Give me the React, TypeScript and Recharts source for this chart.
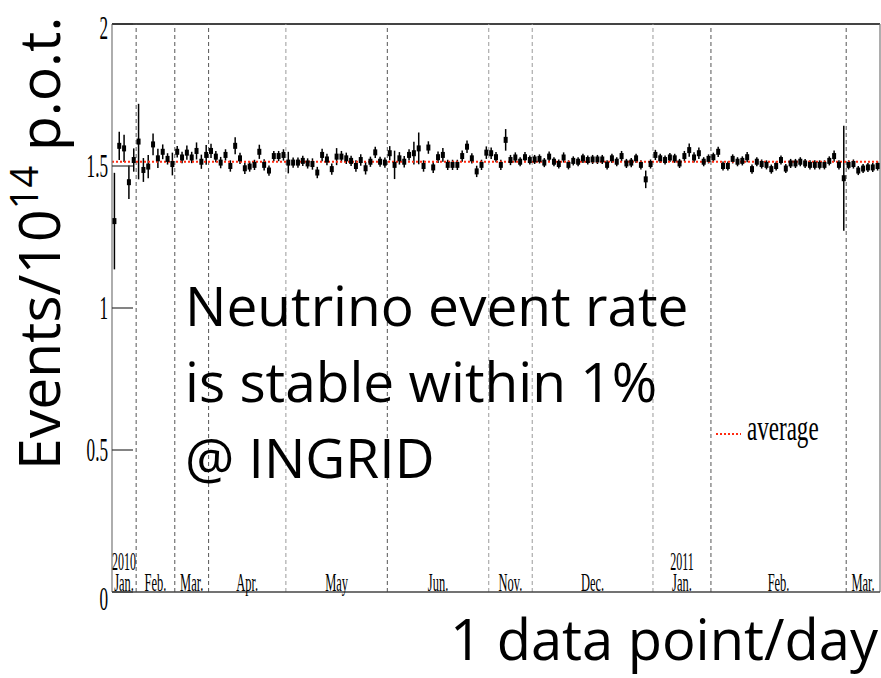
import React from 'react'
import {
  ScatterChart,
  Scatter,
  XAxis,
  YAxis,
  ErrorBar,
  ReferenceLine,
} from 'recharts'

// one point per day of beam, events / 1e14 p.o.t.
const rates = [
  1.306, 1.571, 1.562, 1.443, 1.521, 1.586, 1.486, 1.498, 1.576, 1.527,
  1.55, 1.525, 1.507, 1.55, 1.53, 1.547, 1.53, 1.553, 1.515, 1.539,
  1.553, 1.533, 1.512, 1.539, 1.5, 1.571, 1.527, 1.492, 1.498, 1.504,
  1.55, 1.504, 1.484, 1.535, 1.535, 1.539, 1.512, 1.512, 1.512, 1.518,
  1.509, 1.507, 1.477, 1.539, 1.523, 1.489, 1.533, 1.533, 1.527, 1.518,
  1.5, 1.521, 1.492, 1.515, 1.548, 1.515, 1.512, 1.545, 1.504, 1.527,
  1.515, 1.539, 1.545, 1.562, 1.5, 1.565, 1.495, 1.531, 1.539, 1.504,
  1.504, 1.504, 1.535, 1.568, 1.527, 1.481, 1.504, 1.547, 1.545, 1.531,
  1.504, 1.592, 1.521, 1.53, 1.515, 1.531, 1.521, 1.523, 1.525, 1.512,
  1.533, 1.515, 1.507, 1.53, 1.504, 1.518, 1.515, 1.527, 1.521, 1.523,
  1.523, 1.523, 1.504, 1.527, 1.515, 1.535, 1.509, 1.512, 1.527, 1.504,
  1.453, 1.507, 1.539, 1.527, 1.521, 1.53, 1.527, 1.509, 1.535, 1.556,
  1.53, 1.545, 1.515, 1.525, 1.531, 1.55, 1.5, 1.5, 1.525, 1.515,
  1.518, 1.531, 1.489, 1.515, 1.507, 1.504, 1.489, 1.5, 1.521, 1.491,
  1.509, 1.509, 1.515, 1.509, 1.504, 1.504, 1.504, 1.504, 1.518, 1.535,
  1.504, 1.457, 1.504, 1.507, 1.484, 1.491, 1.495, 1.495, 1.5,
]

const rateErrors = [
  0.17, 0.05, 0.048, 0.059, 0.041, 0.133, 0.042, 0.041, 0.038, 0.034,
  0.026, 0.02, 0.04, 0.02, 0.02, 0.025, 0.02, 0.03, 0.025, 0.035,
  0.025, 0.02, 0.02, 0.02, 0.02, 0.03, 0.02, 0.02, 0.018, 0.018,
  0.025, 0.02, 0.018, 0.018, 0.018, 0.02, 0.038, 0.018, 0.018, 0.018,
  0.018, 0.02, 0.02, 0.022, 0.02, 0.02, 0.03, 0.02, 0.02, 0.018,
  0.02, 0.02, 0.022, 0.018, 0.02, 0.018, 0.018, 0.025, 0.05, 0.022,
  0.02, 0.02, 0.04, 0.056, 0.02, 0.022, 0.02, 0.02, 0.024, 0.018,
  0.018, 0.018, 0.02, 0.022, 0.018, 0.02, 0.018, 0.022, 0.02, 0.018,
  0.018, 0.038, 0.018, 0.018, 0.016, 0.018, 0.016, 0.016, 0.016, 0.016,
  0.018, 0.016, 0.016, 0.018, 0.016, 0.016, 0.016, 0.016, 0.016, 0.016,
  0.016, 0.016, 0.016, 0.016, 0.016, 0.018, 0.016, 0.016, 0.016, 0.016,
  0.031, 0.016, 0.018, 0.016, 0.016, 0.016, 0.016, 0.016, 0.018, 0.023,
  0.018, 0.02, 0.016, 0.016, 0.016, 0.018, 0.016, 0.016, 0.016, 0.016,
  0.016, 0.018, 0.016, 0.016, 0.016, 0.016, 0.016, 0.016, 0.016, 0.016,
  0.016, 0.016, 0.016, 0.016, 0.016, 0.016, 0.016, 0.016, 0.016, 0.02,
  0.016, 0.185, 0.016, 0.016, 0.016, 0.016, 0.016, 0.016, 0.016,
]

const average = 1.515

// month boundaries in units of data points
const monthBounds = [0, 5, 13, 20, 36, 57, 78, 87, 112, 124, 152, 159]
const monthNames = ['Jan.', 'Feb.', 'Mar.', 'Apr.', 'May', 'Jun.', 'Nov.', 'Dec.', 'Jan.', 'Feb.', 'Mar.']
const yearNames = ['2010', '', '', '', '', '', '', '', '2011', '', '']
const yTicks = [0, 0.5, 1, 1.5, 2]

const lightBounds = [36, 78, 87, 112]

const points = rates.map((v, i) => ({ x: i + 0.5, y: v, err: rateErrors[i] }))
const monthCenters = monthNames.map((_, i) => (monthBounds[i] + monthBounds[i + 1]) / 2)

const serif = '"Liberation Serif", "DejaVu Serif", serif'
const sans = '"Open Sans", "Noto Sans", sans-serif'

const MonthTick = (props: any) => {
  const { x, y, index } = props
  return (
    <g>
      <text transform={`translate(${x},${y - 1}) scale(0.48,1)`} textAnchor="middle" fontFamily={serif} fontSize={26} fill="#000">
        {monthNames[index]}
      </text>
      {yearNames[index] ? (
        <text transform={`translate(${x},${y - 22}) scale(0.48,1)`} textAnchor="middle" fontFamily={serif} fontSize={25} fill="#000">
          {yearNames[index]}
        </text>
      ) : null}
    </g>
  )
}

const RateTick = (props: any) => {
  const { x, y, payload } = props
  const v = payload.value
  const shift = v === 0 ? 18 : v === 2 ? 15 : 11
  return (
    <g>
      <line x1={x + 4} x2={x + 25} y1={y} y2={y} stroke="#333" strokeWidth={1.2} />
      <text transform={`translate(${x},${y + shift}) scale(0.52,1)`} textAnchor="end" fontFamily={serif} fontSize={33} fill="#000">
        {String(v)}
      </text>
    </g>
  )
}

const Marker = (props: any) => {
  const { cx, cy } = props
  return <rect x={cx - 2} y={cy - 3} width={4} height={6} fill="#000" />
}

export default function App() {
  return (
    <div style={{ position: 'absolute', left: 0, top: 0, width: 881, height: 678, background: '#fff' }}>
      <ScatterChart width={881} height={678} margin={{ top: 24, right: 1, bottom: 56, left: 82 }}>
        <XAxis
          type="number"
          dataKey="x"
          domain={[0, 159]}
          ticks={monthCenters}
          interval={0}
          tick={<MonthTick />}
          tickSize={0}
          tickMargin={0}
          height={30}
          axisLine={{ stroke: '#444', strokeWidth: 1.5 }}
          allowDataOverflow
        />
        <YAxis
          type="number"
          dataKey="y"
          domain={[0, 2]}
          ticks={yTicks}
          tick={<RateTick />}
          tickSize={0}
          tickMargin={4}
          width={30}
          axisLine={{ stroke: '#777', strokeWidth: 1.2 }}
          allowDataOverflow
        />
        <ReferenceLine y={2} stroke="#444" strokeWidth={1.8} />
        <ReferenceLine x={159} stroke="#777" strokeWidth={1.2} />
        {monthBounds.slice(1, -1).map((b) => (
          <ReferenceLine
            key={b}
            x={b}
            stroke={lightBounds.includes(b) ? '#9a9a9a' : '#555'}
            strokeWidth={1}
            strokeDasharray="4 3"
          />
        ))}
        <Scatter data={points} shape={<Marker />} isAnimationActive={false}>
          <ErrorBar dataKey="err" direction="y" width={0} stroke="#000" strokeWidth={1.5} isAnimationActive={false} />
        </Scatter>
        <ReferenceLine y={average} stroke="#ff2a10" strokeWidth={2.2} strokeDasharray="2 2" />
      </ScatterChart>
      <svg width={881} height={678} style={{ position: 'absolute', left: 0, top: 0, pointerEvents: 'none' }}>
        <text
          transform="translate(60,470) rotate(-90)"
          fontFamily={sans}
          fontSize={57}
          fill="#000"
        >
          Events/10<tspan dy={-22} fontSize={38}>14</tspan>
          <tspan dy={22}> p.o.t.</tspan>
        </text>
        <text x={878} y={660} textAnchor="end" fontFamily={sans} fontSize={56} fill="#000">
          1 data point/day
        </text>
        <g fontFamily={sans} fontSize={55} fill="#000">
          <text x={185} y={326}>Neutrino event rate</text>
          <text x={185} y={402}>is stable within 1%</text>
          <text x={185} y={478}>@ INGRID</text>
        </g>
        <line x1={716} x2={741} y1={434} y2={434} stroke="#ff2a10" strokeWidth={2} strokeDasharray="2 2" />
        <text transform="translate(747,440) scale(0.64,1)" fontFamily={serif} fontSize={36} fill="#000">
          average
        </text>
      </svg>
    </div>
  )
}
